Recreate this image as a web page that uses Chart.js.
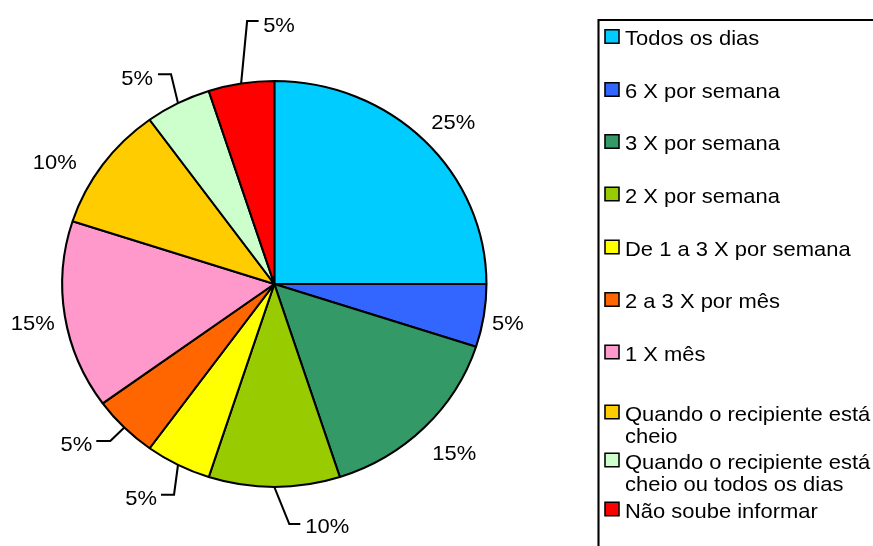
<!DOCTYPE html>
<html>
<head>
<meta charset="utf-8">
<script src="https://cdn.jsdelivr.net/npm/chart.js@4.4.1/dist/chart.umd.min.js"></script>
<style>
  html, body { margin: 0; padding: 0; background: #fff; }
  #wrap { width: 873px; height: 546px; position: relative; }
</style>
</head>
<body>
<div id="wrap"><canvas id="pieChart"></canvas></div>
<script>
// Data
const categories = ["Todos os dias", "6 X por semana", "3 X por semana", "2 X por semana",
  "De 1 a 3 X por semana", "2 a 3 X por mês", "1 X mês", "Quando o recipiente está cheio",
  "Quando o recipiente está cheio ou todos os dias", "Não soube informar"];
const shares = [25, 5, 15, 10, 5, 5, 15, 10, 5, 5];
const sliceColors = ["#00CCFF", "#3366FF", "#339966", "#99CC00", "#FFFF00",
  "#FF6600", "#FF99CC", "#FFCC00", "#CCFFCC", "#FF0000"];

// the original is a little wider than tall, so the whole drawing gets stretched in x
const SX = 1.045;
const FONT = '21px "Liberation Sans", Arial, sans-serif';

// where each % label sits, in screen px relative to the arc edge at the slice middle
// t = text anchor, a = align, e = leader elbow, h = leader end
const labelPos = [
  { t: [29, -19], a: "center" },
  { t: [24, 7], a: "center" },
  { t: [30, 25], a: "center" },
  { t: [31, 38.5], a: "left", e: [15, 37], h: [26, 37] },
  { t: [-21, 33], a: "right", e: [-4, 30], h: [-17, 30] },
  { t: [-32, 16], a: "right", e: [-14, 13.5], h: [-28, 13.5] },
  { t: [-32, 7], a: "center" },
  { t: [-48, -3], a: "center" },
  { t: [-25, -26], a: "right", e: [-7, -29], h: [-20, -29] },
  { t: [22, -59], a: "left", e: [6, -62.5], h: [17.5, -62.5] }
];
// legend row middles (screen px)
const legendRows = [37.5, 90.5, 142.5, 195, 248, 300.5, 353, 413, 461, 510];

function wrapText(ctx, text, maxW) {
  const words = text.split(" ");
  const lines = [];
  let cur = "";
  words.forEach(w => {
    const test = cur ? cur + " " + w : w;
    if (cur && ctx.measureText(test).width > maxW) {
      lines.push(cur);
      cur = w;
    } else {
      cur = test;
    }
  });
  if (cur) lines.push(cur);
  return lines;
}

function drawLabels(chart, ctx) {
  const arcs = chart.getDatasetMeta(0).data;
  ctx.font = FONT;
  ctx.fillStyle = "#000";
  ctx.strokeStyle = "#000";
  ctx.lineWidth = 2;
  arcs.forEach((arc, i) => {
    const { x, y, startAngle, endAngle, outerRadius } =
      arc.getProps(["x", "y", "startAngle", "endAngle", "outerRadius"], true);
    const mid = (startAngle + endAngle) / 2;
    const px = x + outerRadius * Math.cos(mid);
    const py = y + outerRadius * Math.sin(mid);
    const p = labelPos[i];
    if (p.e) {
      ctx.beginPath();
      ctx.moveTo(px, py);
      ctx.lineTo(px + p.e[0] / SX, py + p.e[1]);
      ctx.lineTo(px + p.h[0] / SX, py + p.h[1]);
      ctx.stroke();
    }
    ctx.textAlign = p.a;
    ctx.textBaseline = "alphabetic";
    ctx.fillText(shares[i] + "%", px + p.t[0] / SX, py + p.t[1] + 7.5);
  });
}

function drawLegend(chart, ctx) {
  const left = 598.5 / SX;
  ctx.strokeStyle = "#000";
  ctx.lineWidth = 2;
  ctx.beginPath();
  ctx.moveTo(left, 600);
  ctx.lineTo(left, 20);
  ctx.lineTo(900, 20);
  ctx.stroke();

  ctx.font = FONT;
  ctx.textAlign = "left";
  ctx.textBaseline = "alphabetic";
  const textX = 625 / SX;
  const maxW = 270 / SX;
  categories.forEach((name, i) => {
    const yMid = legendRows[i];
    ctx.fillStyle = sliceColors[i];
    ctx.fillRect(605 / SX, yMid - 7.75, 14 / SX, 13.5);
    ctx.lineWidth = 1.5;
    ctx.strokeRect(605 / SX, yMid - 7.75, 14 / SX, 13.5);
    ctx.fillStyle = "#000";
    wrapText(ctx, name, maxW).forEach((ln, k) => {
      ctx.fillText(ln, textX, yMid + 7.5 + k * 22);
    });
  });
}

const stretch = {
  id: "stretch",
  beforeDraw(chart) {
    chart.ctx.save();
    chart.ctx.scale(SX, 1);
  },
  afterDraw(chart) {
    const ctx = chart.ctx;
    drawLabels(chart, ctx);
    drawLegend(chart, ctx);
    ctx.restore();
  }
};

new Chart(document.getElementById("pieChart"), {
  type: "pie",
  data: {
    labels: categories,
    datasets: [{
      data: shares,
      backgroundColor: sliceColors,
      borderColor: "#000",
      borderWidth: 2,
      clip: false
    }]
  },
  options: {
    responsive: true,
    maintainAspectRatio: false,
    animation: false,
    devicePixelRatio: 1,
    events: [],
    layout: { padding: { left: 0, right: 348, top: 80, bottom: 58 } },
    plugins: { legend: { display: false }, tooltip: { enabled: false } }
  },
  plugins: [stretch]
});
</script>
</body>
</html>
